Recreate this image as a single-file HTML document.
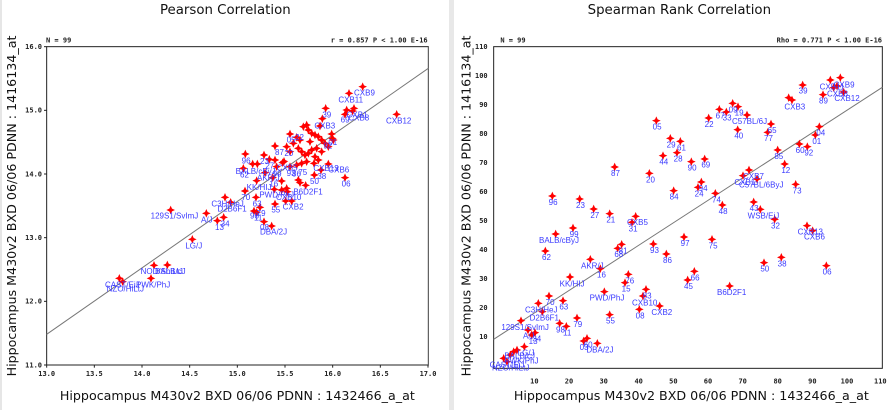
<!DOCTYPE html>
<html><head><meta charset="utf-8"><style>
html,body{margin:0;padding:0;background:#fff;width:895px;height:410px;overflow:hidden;position:relative}
svg{position:absolute;top:0}
.t{font-family:"DejaVu Sans","Liberation Sans",sans-serif}
.tk{font-family:"DejaVu Sans Mono","Liberation Mono",monospace;font-size:21px;font-weight:bold;fill:#222}
.lb{font-family:"Liberation Sans",sans-serif;font-size:24px;fill:#3a3aff}
</style></head><body>
<div style="position:absolute;left:0;top:0;width:2px;height:410px;background:#e6e6e6"></div>
<div style="position:absolute;left:449px;top:0;width:5px;height:410px;background:#e8e8e8"></div>
<svg width="447" height="410" viewBox="0 0 1341 1230" style="left:0">
<defs><path id="m" d="M0,-13 L4,-4 L13,0 L4,4 L0,13 L-4,4 L-13,0 L-4,-4Z" fill="#f00"/></defs>
<text class="t" x="676" y="42" font-size="40" text-anchor="middle" fill="#111">Pearson Correlation</text>
<text class="tk" x="138" y="128" font-weight="normal">N = 99</text>
<text class="tk" x="1283" y="128" text-anchor="end" font-weight="normal">r = 0.857 P &lt; 1.00 E-16</text>
<rect x="140" y="140" width="1145" height="955" fill="none" stroke="#222" stroke-width="3"/>
<rect x="1285" y="140" width="1" height="955" fill="#999"/>
<g stroke="#222" stroke-width="3">
<line x1="132" y1="140" x2="140" y2="140"/><line x1="132" y1="331" x2="140" y2="331"/><line x1="132" y1="522" x2="140" y2="522"/><line x1="132" y1="713" x2="140" y2="713"/><line x1="132" y1="904" x2="140" y2="904"/><line x1="132" y1="1095" x2="140" y2="1095"/>
<line x1="140" y1="1095" x2="140" y2="1103"/><line x1="283" y1="1095" x2="283" y2="1103"/><line x1="426" y1="1095" x2="426" y2="1103"/><line x1="569" y1="1095" x2="569" y2="1103"/><line x1="712" y1="1095" x2="712" y2="1103"/><line x1="855" y1="1095" x2="855" y2="1103"/><line x1="998" y1="1095" x2="998" y2="1103"/><line x1="1141" y1="1095" x2="1141" y2="1103"/><line x1="1284" y1="1095" x2="1284" y2="1103"/>
</g>
<g class="tk" text-anchor="end"><text x="126" y="147">16.0</text><text x="126" y="338">15.0</text><text x="126" y="529">14.0</text><text x="126" y="720">13.0</text><text x="126" y="911">12.0</text><text x="126" y="1102">11.0</text></g>
<g class="tk" text-anchor="middle"><text x="140" y="1128">13.0</text><text x="283" y="1128">13.5</text><text x="426" y="1128">14.0</text><text x="569" y="1128">14.5</text><text x="712" y="1128">15.0</text><text x="855" y="1128">15.5</text><text x="998" y="1128">16.0</text><text x="1141" y="1128">16.5</text><text x="1284" y="1128">17.0</text></g>
<text class="t" x="712" y="1200" font-size="38" text-anchor="middle" fill="#111">Hippocampus M430v2 BXD 06/06 PDNN : 1432466_a_at</text>
<text class="t" transform="translate(48,618) rotate(-90)" font-size="38" text-anchor="middle" fill="#111">Hippocampus M430v2 BXD 06/06 PDNN : 1416134_at</text>
<line x1="140" y1="1003" x2="1285" y2="205" stroke="#777" stroke-width="3"/>
<g>
<use href="#m" x="1088" y="260"/><use href="#m" x="1047" y="280"/><use href="#m" x="1062" y="325"/><use href="#m" x="1058" y="333"/><use href="#m" x="1035" y="343"/><use href="#m" x="1190" y="343"/><use href="#m" x="977" y="325"/><use href="#m" x="967" y="356"/><use href="#m" x="960" y="378"/><use href="#m" x="995" y="402"/><use href="#m" x="997" y="415"/><use href="#m" x="870" y="402"/><use href="#m" x="890" y="412"/><use href="#m" x="910" y="380"/><use href="#m" x="920" y="375"/><use href="#m" x="925" y="390"/><use href="#m" x="935" y="400"/><use href="#m" x="945" y="405"/><use href="#m" x="955" y="410"/><use href="#m" x="965" y="420"/><use href="#m" x="975" y="430"/><use href="#m" x="985" y="440"/><use href="#m" x="900" y="420"/><use href="#m" x="880" y="430"/><use href="#m" x="860" y="440"/><use href="#m" x="870" y="455"/><use href="#m" x="895" y="445"/><use href="#m" x="905" y="455"/><use href="#m" x="915" y="465"/><use href="#m" x="925" y="460"/><use href="#m" x="935" y="450"/><use href="#m" x="945" y="470"/><use href="#m" x="955" y="480"/><use href="#m" x="965" y="455"/><use href="#m" x="950" y="445"/><use href="#m" x="825" y="438"/><use href="#m" x="736" y="462"/><use href="#m" x="792" y="465"/><use href="#m" x="808" y="478"/><use href="#m" x="825" y="480"/><use href="#m" x="848" y="488"/><use href="#m" x="852" y="484"/><use href="#m" x="870" y="500"/><use href="#m" x="890" y="495"/><use href="#m" x="905" y="490"/><use href="#m" x="920" y="485"/><use href="#m" x="942" y="490"/><use href="#m" x="985" y="492"/><use href="#m" x="963" y="510"/><use href="#m" x="943" y="525"/><use href="#m" x="1035" y="533"/><use href="#m" x="730" y="505"/><use href="#m" x="758" y="492"/><use href="#m" x="772" y="492"/><use href="#m" x="795" y="518"/><use href="#m" x="830" y="500"/><use href="#m" x="818" y="533"/><use href="#m" x="845" y="543"/><use href="#m" x="823" y="568"/><use href="#m" x="845" y="570"/><use href="#m" x="860" y="565"/><use href="#m" x="862" y="575"/><use href="#m" x="770" y="542"/><use href="#m" x="735" y="573"/><use href="#m" x="768" y="592"/><use href="#m" x="780" y="622"/><use href="#m" x="762" y="633"/><use href="#m" x="770" y="637"/><use href="#m" x="825" y="612"/><use href="#m" x="857" y="603"/><use href="#m" x="875" y="603"/><use href="#m" x="895" y="540"/><use href="#m" x="900" y="548"/><use href="#m" x="917" y="556"/><use href="#m" x="792" y="665"/><use href="#m" x="815" y="678"/><use href="#m" x="675" y="592"/><use href="#m" x="692" y="607"/><use href="#m" x="671" y="652"/><use href="#m" x="652" y="662"/><use href="#m" x="619" y="640"/><use href="#m" x="512" y="630"/><use href="#m" x="577" y="718"/><use href="#m" x="462" y="796"/><use href="#m" x="502" y="795"/><use href="#m" x="453" y="835"/><use href="#m" x="358" y="835"/><use href="#m" x="368" y="845"/><use href="#m" x="1040" y="330"/><use href="#m" x="1000" y="420"/><use href="#m" x="930" y="425"/>
</g>
<g class="lb">
<text x="1062" y="287">CXB9</text><text x="1015" y="307">CXB11</text><text x="1040" y="352">CXB1</text><text x="1022" y="368">69</text><text x="1045" y="362">CXB8</text><text x="1158" y="370">CXB12</text><text x="967" y="352">39</text><text x="943" y="386">CXB3</text><text x="860" y="428">05</text><text x="885" y="420">22</text><text x="825" y="465">87</text><text x="853" y="468">20</text><text x="970" y="445">92</text><text x="985" y="435">01</text><text x="725" y="490">96</text><text x="780" y="492">23</text><text x="796" y="505">27</text><text x="707" y="522">BALB/cByJ</text><text x="720" y="532">62</text><text x="818" y="530">99</text><text x="830" y="512">CXB5</text><text x="860" y="528">93</text><text x="876" y="530">86</text><text x="895" y="525">75</text><text x="940" y="513">CXB13</text><text x="985" y="517">CXB6</text><text x="930" y="552">50</text><text x="952" y="537">38</text><text x="1025" y="560">06</text><text x="771" y="542">AKR/J</text><text x="808" y="560">16</text><text x="740" y="570">KK/HIJ</text><text x="724" y="600">70</text><text x="778" y="592">PWD/PhJ</text><text x="828" y="600">CXB10</text><text x="880" y="583">B6D2F1</text><text x="758" y="620">63</text><text x="770" y="648">79</text><text x="750" y="655">98</text><text x="762" y="662">11</text><text x="814" y="638">55</text><text x="848" y="629">CXB2</text><text x="780" y="690">08</text><text x="780" y="704">DBA/2J</text><text x="634" y="620">C3H/HeJ</text><text x="652" y="634">D2B6F1</text><text x="452" y="656">129S1/SvImJ</text><text x="603" y="668">A/J</text><text x="645" y="690">13</text><text x="662" y="680">34</text><text x="556" y="745">LG/J</text><text x="422" y="822">NOD/ShiLtJ</text><text x="465" y="822">BALB/cJ</text><text x="315" y="862">CAST/EiJ</text><text x="408" y="862">PWK/PhJ</text><text x="320" y="875">NZO/HlLtJ</text>
</g>
</svg>
<svg width="441" height="410" viewBox="0 0 1323 1230" style="left:454px">
<defs><path id="n" d="M0,-13 L4,-4 L13,0 L4,4 L0,13 L-4,4 L-13,0 L-4,-4Z" fill="#f00"/></defs>
<g transform="translate(-21,0)">
<text class="t" x="697" y="42" font-size="40" text-anchor="middle" fill="#111">Spearman Rank Correlation</text>
<text class="tk" x="160" y="128" font-weight="normal">N = 99</text>
<text class="tk" x="1305" y="128" text-anchor="end" font-weight="normal">Rho = 0.771 P &lt; 1.00 E-16</text>
<rect x="140" y="140" width="1166" height="965" fill="none" stroke="#222" stroke-width="3"/>
<g class="tk" text-anchor="end"><text x="122" y="147">110</text><text x="122" y="234">100</text><text x="122" y="321">90</text><text x="122" y="408">80</text><text x="122" y="495">70</text><text x="122" y="582">60</text><text x="122" y="669">50</text><text x="122" y="756">40</text><text x="122" y="843">30</text><text x="122" y="930">20</text><text x="122" y="1017">10</text></g>
<g class="tk" text-anchor="middle"><text x="262" y="1150">10</text><text x="366" y="1150">20</text><text x="470" y="1150">30</text><text x="575" y="1150">40</text><text x="679" y="1150">50</text><text x="783" y="1150">60</text><text x="887" y="1150">70</text><text x="992" y="1150">80</text><text x="1096" y="1150">90</text><text x="1200" y="1150">100</text><text x="1300" y="1150">110</text></g>
<text class="t" x="733" y="1200" font-size="38" text-anchor="middle" fill="#111">Hippocampus M430v2 BXD 06/06 PDNN : 1432466_a_at</text>
<text class="t" transform="translate(70,618) rotate(-90)" font-size="38" text-anchor="middle" fill="#111">Hippocampus M430v2 BXD 06/06 PDNN : 1416134_at</text>
<line x1="140" y1="1018" x2="1306" y2="262" stroke="#777" stroke-width="3"/>
<g>
<use href="#n" x="1180" y="233"/><use href="#n" x="1150" y="240"/><use href="#n" x="1067" y="255"/><use href="#n" x="1128" y="284"/><use href="#n" x="1160" y="263"/><use href="#n" x="1170" y="258"/><use href="#n" x="1190" y="276"/><use href="#n" x="1025" y="293"/><use href="#n" x="1035" y="300"/><use href="#n" x="857" y="310"/><use href="#n" x="873" y="320"/><use href="#n" x="838" y="336"/><use href="#n" x="817" y="328"/><use href="#n" x="785" y="354"/><use href="#n" x="900" y="345"/><use href="#n" x="872" y="389"/><use href="#n" x="972" y="372"/><use href="#n" x="962" y="397"/><use href="#n" x="1117" y="380"/><use href="#n" x="1105" y="405"/><use href="#n" x="628" y="362"/><use href="#n" x="670" y="415"/><use href="#n" x="700" y="424"/><use href="#n" x="690" y="458"/><use href="#n" x="648" y="467"/><use href="#n" x="1057" y="432"/><use href="#n" x="1081" y="440"/><use href="#n" x="992" y="450"/><use href="#n" x="1013" y="492"/><use href="#n" x="733" y="485"/><use href="#n" x="773" y="477"/><use href="#n" x="503" y="501"/><use href="#n" x="607" y="520"/><use href="#n" x="888" y="527"/><use href="#n" x="906" y="510"/><use href="#n" x="930" y="537"/><use href="#n" x="1046" y="553"/><use href="#n" x="763" y="546"/><use href="#n" x="753" y="562"/><use href="#n" x="680" y="572"/><use href="#n" x="805" y="580"/><use href="#n" x="826" y="615"/><use href="#n" x="920" y="606"/><use href="#n" x="940" y="628"/><use href="#n" x="983" y="658"/><use href="#n" x="316" y="588"/><use href="#n" x="398" y="597"/><use href="#n" x="440" y="627"/><use href="#n" x="488" y="641"/><use href="#n" x="566" y="649"/><use href="#n" x="555" y="667"/><use href="#n" x="326" y="702"/><use href="#n" x="378" y="684"/><use href="#n" x="295" y="753"/><use href="#n" x="1080" y="677"/><use href="#n" x="1097" y="692"/><use href="#n" x="524" y="733"/><use href="#n" x="512" y="745"/><use href="#n" x="619" y="732"/><use href="#n" x="658" y="762"/><use href="#n" x="711" y="711"/><use href="#n" x="795" y="718"/><use href="#n" x="430" y="778"/><use href="#n" x="460" y="806"/><use href="#n" x="951" y="788"/><use href="#n" x="1003" y="772"/><use href="#n" x="1138" y="797"/><use href="#n" x="544" y="823"/><use href="#n" x="534" y="848"/><use href="#n" x="742" y="814"/><use href="#n" x="722" y="840"/><use href="#n" x="848" y="858"/><use href="#n" x="369" y="831"/><use href="#n" x="472" y="875"/><use href="#n" x="306" y="888"/><use href="#n" x="348" y="902"/><use href="#n" x="597" y="868"/><use href="#n" x="588" y="888"/><use href="#n" x="638" y="918"/><use href="#n" x="577" y="928"/><use href="#n" x="488" y="944"/><use href="#n" x="274" y="910"/><use href="#n" x="286" y="935"/><use href="#n" x="390" y="954"/><use href="#n" x="338" y="970"/><use href="#n" x="358" y="979"/><use href="#n" x="222" y="962"/><use href="#n" x="243" y="990"/><use href="#n" x="264" y="998"/><use href="#n" x="254" y="1005"/><use href="#n" x="410" y="1023"/><use href="#n" x="420" y="1015"/><use href="#n" x="451" y="1030"/><use href="#n" x="232" y="1040"/><use href="#n" x="210" y="1050"/><use href="#n" x="200" y="1055"/><use href="#n" x="190" y="1065"/><use href="#n" x="170" y="1075"/><use href="#n" x="180" y="1085"/>
</g>
<g class="lb">
<text x="1160" y="262">CXB9</text><text x="1118" y="268">CXB11</text><text x="1055" y="280">39</text><text x="1140" y="290">CXB8</text><text x="1116" y="310">89</text><text x="1162" y="303">CXB12</text><text x="1012" y="328">CXB3</text><text x="845" y="337">09</text><text x="863" y="347">19</text><text x="827" y="362">33</text><text x="806" y="355">67</text><text x="773" y="381">22</text><text x="855" y="372">C57BL/6J</text><text x="862" y="416">40</text><text x="962" y="399">65</text><text x="951" y="423">77</text><text x="1108" y="407">04</text><text x="1096" y="432">01</text><text x="617" y="389">05</text><text x="659" y="442">29</text><text x="690" y="451">61</text><text x="680" y="485">28</text><text x="637" y="494">44</text><text x="1046" y="459">60</text><text x="1072" y="467">92</text><text x="982" y="477">85</text><text x="1003" y="519">12</text><text x="722" y="512">90</text><text x="763" y="503">69</text><text x="492" y="528">87</text><text x="597" y="547">20</text><text x="888" y="537">CXB7</text><text x="862" y="555">CXB1</text><text x="876" y="563">C57BL/6ByJ</text><text x="1037" y="580">73</text><text x="743" y="589">24</text><text x="755" y="573">94</text><text x="668" y="599">84</text><text x="795" y="607">74</text><text x="815" y="642">48</text><text x="908" y="633">43</text><text x="902" y="655">WSB/EiJ</text><text x="972" y="685">32</text><text x="305" y="615">96</text><text x="387" y="624">23</text><text x="430" y="654">27</text><text x="478" y="668">21</text><text x="540" y="675">CXB5</text><text x="545" y="694">31</text><text x="276" y="729">BALB/cByJ</text><text x="368" y="711">99</text><text x="285" y="780">62</text><text x="1052" y="703">CXB13</text><text x="1071" y="719">CXB6</text><text x="515" y="760">81</text><text x="502" y="771">68</text><text x="609" y="759">93</text><text x="648" y="789">86</text><text x="701" y="738">97</text><text x="785" y="745">75</text><text x="402" y="806">AKR/J</text><text x="450" y="833">16</text><text x="940" y="815">50</text><text x="992" y="799">38</text><text x="1127" y="824">06</text><text x="535" y="850">76</text><text x="524" y="875">15</text><text x="731" y="841">66</text><text x="711" y="867">45</text><text x="810" y="885">B6D2F1</text><text x="338" y="859">KK/HIJ</text><text x="428" y="902">PWD/PhJ</text><text x="296" y="915">70</text><text x="337" y="929">63</text><text x="587" y="895">83</text><text x="555" y="916">CXB10</text><text x="613" y="945">CXB2</text><text x="566" y="955">08</text><text x="477" y="971">55</text><text x="234" y="937">C3H/HeJ</text><text x="248" y="962">D2B6F1</text><text x="379" y="981">79</text><text x="327" y="997">98</text><text x="348" y="1006">11</text><text x="163" y="990">129S1/SvImJ</text><text x="228" y="1016">A/J</text><text x="256" y="1025">34</text><text x="245" y="1032">13</text><text x="398" y="1050">03</text><text x="410" y="1042">60</text><text x="418" y="1058">DBA/2J</text><text x="212" y="1066">LG/J</text><text x="172" y="1075">BALB/cJ</text><text x="172" y="1090">PWK/PhJ</text><text x="128" y="1102">CAST/EiJ</text><text x="135" y="1112">NZO/HlLtJ</text>
</g>
</g>
</svg>
</body></html>
